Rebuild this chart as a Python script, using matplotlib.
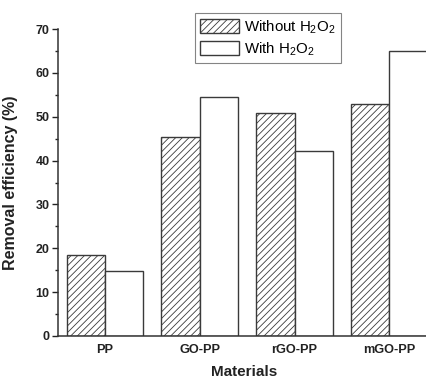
import matplotlib
matplotlib.use('Agg')
import matplotlib.pyplot as plt
import numpy as np
from matplotlib.ticker import MultipleLocator

plt.rcParams['font.family'] = ['Liberation Sans', 'DejaVu Sans']
plt.rcParams['mathtext.fontset'] = 'custom'
plt.rcParams['mathtext.rm'] = 'Liberation Sans'
plt.rcParams['mathtext.it'] = 'Liberation Sans'
plt.rcParams['hatch.linewidth'] = 0.6

# data
materials = ['PP', 'GO-PP', 'rGO-PP', 'mGO-PP']
without_h2o2 = [18.4, 45.3, 50.9, 52.9]
with_h2o2 = [14.8, 54.6, 42.2, 65.0]

W, H = 427, 379
fig = plt.figure(figsize=(W / 100, H / 100), dpi=100)
ax = fig.add_axes([58 / W, 1 - 336 / H, 372 / W, (336 - 29) / H])

x = np.arange(len(materials))
bw = 0.405
edge = '#3a3a3a'
ax.bar(x - bw / 2, without_h2o2, bw, facecolor='white', edgecolor=edge,
       hatch='/////', linewidth=1.0, label='Without H$_2$O$_2$')
ax.bar(x + bw / 2, with_h2o2, bw, facecolor='white', edgecolor=edge,
       linewidth=1.0, label='With H$_2$O$_2$')

ax.set_xlim(-0.496, 3.43)
ax.set_ylim(0, 70)
ax.set_xticks(x)
ax.set_xticklabels(materials, fontweight='bold', fontsize=9.2)
ax.yaxis.set_major_locator(MultipleLocator(10))
ax.yaxis.set_minor_locator(MultipleLocator(5))
for lab in ax.get_yticklabels():
    lab.set_fontweight('bold')
ax.tick_params(axis='y', which='major', length=4, width=1, labelsize=9, colors='#222', pad=2)
ax.tick_params(axis='y', which='minor', length=2, width=1, colors='#222')
ax.tick_params(axis='x', length=0, pad=6, colors='#222')

ax.spines['top'].set_visible(False)
ax.spines['right'].set_visible(False)
ax.spines['left'].set_color('#333')
ax.spines['bottom'].set_color('#333')
ax.spines['left'].set_linewidth(1.1)
ax.spines['bottom'].set_linewidth(1.1)

ax.set_xlabel('Materials', fontweight='bold', fontsize=11, color='#222', labelpad=6)
ax.set_ylabel('Removal efficiency (%)', fontweight='bold', fontsize=11.5, color='#222')
ax.yaxis.set_label_coords(-(58 - 18) / 372, 0.5)

leg = ax.legend(loc='upper left', bbox_to_anchor=(195 / W, 1 - 13 / H),
                bbox_transform=fig.transFigure, fontsize=10.8, frameon=True,
                fancybox=False, borderaxespad=0, handlelength=2.6,
                handleheight=1.1, borderpad=0.35, labelspacing=0.3,
                handletextpad=0.35)
leg.get_frame().set_edgecolor('#666')
leg.get_frame().set_linewidth(0.8)

fig.savefig('out.png', dpi=100)
